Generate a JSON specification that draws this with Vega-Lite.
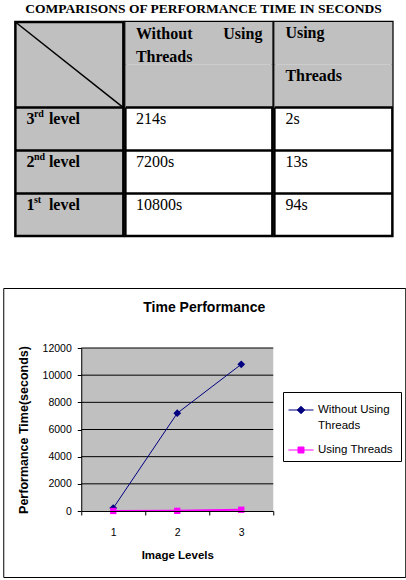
{
  "$schema": "https://vega.github.io/schema/vega-lite/v6.json",
  "background": "white",
  "padding": {"left": 2, "right": 0, "top": 1, "bottom": 0},
  "config": {
    "view": {"stroke": null},
    "font": "Liberation Sans",
    "axis": {"grid": false, "labelFont": "Liberation Sans", "labelFontSize": 10.5, "labelColor": "black", "titleFont": "Liberation Sans", "titleColor": "black", "titleFontWeight": "bold", "domainColor": "black", "tickColor": "black", "tickSize": 4},
    "axisX": {"labelPadding": 12, "titleFontSize": 11.5, "titlePadding": 12, "labelAngle": 0},
    "axisY": {"labelPadding": 6, "titleFontSize": 12.5, "titlePadding": 12}
  },
  "datasets": {
    "series": [
      {"level": 1, "series": "Without Using Threads", "time": 214},
      {"level": 2, "series": "Without Using Threads", "time": 7200},
      {"level": 3, "series": "Without Using Threads", "time": 10800},
      {"level": 1, "series": "Using  Threads", "time": 2},
      {"level": 2, "series": "Using  Threads", "time": 13},
      {"level": 3, "series": "Using  Threads", "time": 94}
    ],
    "gridlines": [{"value": 2000}, {"value": 4000}, {"value": 6000}, {"value": 8000}, {"value": 10000}, {"value": 12000}],
    "labels": [
      {"row": "r3", "num": "3", "sup": "rd", "rest": "level"},
      {"row": "r2", "num": "2", "sup": "nd", "rest": "level"},
      {"row": "r1", "num": "1", "sup": "st", "rest": "level"}
    ],
    "without": [
      {"row": "r3", "text": "214s"},
      {"row": "r2", "text": "7200s"},
      {"row": "r1", "text": "10800s"}
    ],
    "using": [
      {"row": "r3", "text": "2s"},
      {"row": "r2", "text": "13s"},
      {"row": "r1", "text": "94s"}
    ],
    "header": [{"row": "h1"}, {"row": "h2"}]
  },
  "spacing": 49,
  "center": true,
  "vconcat": [
    {
      "title": {"text": "COMPARISONS OF PERFORMANCE TIME IN SECONDS", "font": "Liberation Serif", "fontSize": 13.5, "fontWeight": "bold", "color": "black", "anchor": "middle", "offset": 5},
      "spacing": -2.5,
      "hconcat": [
        {
          "width": 108, "height": 214,
          "view": {"stroke": "black", "strokeWidth": 2.5, "fill": "#c0c0c0"},
          "layer": [
            {
              "data": {"values": [{"a": "h1", "b": "h2"}]},
              "mark": {"type": "rule", "color": "black", "strokeWidth": 1.5},
              "encoding": {
                "x": {"datum": 0, "type": "quantitative", "scale": {"domain": [0, 1], "nice": false, "zero": false}, "axis": null},
                "x2": {"datum": 1},
                "y": {"field": "a", "type": "nominal", "bandPosition": 0,
                  "scale": {"type": "band", "domain": ["h1", "h2", "r3", "r2", "r1"], "paddingInner": 0, "paddingOuter": 0},
                  "axis": {"grid": true, "gridColor": "black", "gridWidth": 2.5, "gridOpacity": 1, "values": ["r3", "r2", "r1"], "bandPosition": 0, "domain": false, "ticks": false, "labels": false, "title": null, "minExtent": 0, "maxExtent": 0}},
                "y2": {"field": "b", "bandPosition": 1}
              }
            },
            {
              "data": {"name": "labels"},
              "mark": {"type": "text", "font": "Liberation Serif", "fontSize": 16, "fontWeight": "bold", "align": "left", "baseline": "alphabetic", "dx": 11, "dy": 16.5, "color": "black"},
              "encoding": {
                "x": {"datum": 0, "type": "quantitative"},
                "y": {"field": "row", "type": "nominal", "bandPosition": 0},
                "text": {"field": "num", "type": "nominal"}
              }
            },
            {
              "data": {"name": "labels"},
              "mark": {"type": "text", "font": "Liberation Serif", "fontSize": 10, "fontWeight": "bold", "align": "left", "baseline": "alphabetic", "dx": 18.5, "dy": 9.5, "color": "black"},
              "encoding": {
                "x": {"datum": 0, "type": "quantitative"},
                "y": {"field": "row", "type": "nominal", "bandPosition": 0},
                "text": {"field": "sup", "type": "nominal"}
              }
            },
            {
              "data": {"name": "labels"},
              "mark": {"type": "text", "font": "Liberation Serif", "fontSize": 16, "fontWeight": "bold", "align": "left", "baseline": "alphabetic", "dx": 33.5, "dy": 16.5, "color": "black"},
              "encoding": {
                "x": {"datum": 0, "type": "quantitative"},
                "y": {"field": "row", "type": "nominal", "bandPosition": 0},
                "text": {"field": "rest", "type": "nominal"}
              }
            }
          ]
        },
        {
          "width": 147, "height": 214,
          "view": {"stroke": "black", "strokeWidth": 2.5, "fill": "white"},
          "layer": [
            {
              "data": {"name": "header"},
              "mark": {"type": "rect", "color": "#c0c0c0"},
              "encoding": {
                "x": {"datum": 0, "type": "quantitative", "scale": {"domain": [0, 1], "nice": false, "zero": false}, "axis": null},
                "x2": {"datum": 1},
                "y": {"field": "row", "type": "nominal",
                  "scale": {"type": "band", "domain": ["h1", "h2", "r3", "r2", "r1"], "paddingInner": 0, "paddingOuter": 0},
                  "axis": {"grid": true, "gridColor": "black", "gridWidth": 2.5, "gridOpacity": 1, "values": ["r3", "r2", "r1"], "bandPosition": 0, "domain": false, "ticks": false, "labels": false, "title": null, "minExtent": 0, "maxExtent": 0, "zindex": 1}}
              }
            },
            {
              "data": {"values": [{"row": "h1", "text": "Without\nThreads"}]},
              "mark": {"type": "text", "font": "Liberation Serif", "fontSize": 16, "fontWeight": "bold", "align": "left", "baseline": "alphabetic", "dx": 10.5, "dy": 17, "lineBreak": "\n", "lineHeight": 23, "color": "black"},
              "encoding": {
                "x": {"datum": 0, "type": "quantitative"},
                "y": {"field": "row", "type": "nominal", "bandPosition": 0},
                "text": {"field": "text", "type": "nominal"}
              }
            },
            {
              "data": {"values": [{"row": "h1", "text": "Using"}]},
              "mark": {"type": "text", "font": "Liberation Serif", "fontSize": 16, "fontWeight": "bold", "align": "right", "baseline": "alphabetic", "dx": -10, "dy": 17, "color": "black"},
              "encoding": {
                "x": {"datum": 1, "type": "quantitative"},
                "y": {"field": "row", "type": "nominal", "bandPosition": 0},
                "text": {"field": "text", "type": "nominal"}
              }
            },
            {
              "data": {"name": "without"},
              "mark": {"type": "text", "font": "Liberation Serif", "fontSize": 16, "align": "left", "baseline": "alphabetic", "dx": 10.5, "dy": 16.5, "color": "black"},
              "encoding": {
                "x": {"datum": 0, "type": "quantitative"},
                "y": {"field": "row", "type": "nominal", "bandPosition": 0},
                "text": {"field": "text", "type": "nominal"}
              }
            }
          ]
        },
        {
          "width": 118, "height": 214,
          "view": {"stroke": "black", "strokeWidth": 2.5, "fill": "white"},
          "layer": [
            {
              "data": {"name": "header"},
              "mark": {"type": "rect", "color": "#c0c0c0"},
              "encoding": {
                "x": {"datum": 0, "type": "quantitative", "scale": {"domain": [0, 1], "nice": false, "zero": false}, "axis": null},
                "x2": {"datum": 1},
                "y": {"field": "row", "type": "nominal",
                  "scale": {"type": "band", "domain": ["h1", "h2", "r3", "r2", "r1"], "paddingInner": 0, "paddingOuter": 0},
                  "axis": {"grid": true, "gridColor": "black", "gridWidth": 2.5, "gridOpacity": 1, "values": ["r3", "r2", "r1"], "bandPosition": 0, "domain": false, "ticks": false, "labels": false, "title": null, "minExtent": 0, "maxExtent": 0, "zindex": 1}}
              }
            },
            {
              "data": {"values": [{"row": "h1", "text": "Using"}, {"row": "h2", "text": "Threads"}]},
              "mark": {"type": "text", "font": "Liberation Serif", "fontSize": 16, "fontWeight": "bold", "align": "left", "baseline": "alphabetic", "dx": 11, "dy": 16, "color": "black"},
              "encoding": {
                "x": {"datum": 0, "type": "quantitative"},
                "y": {"field": "row", "type": "nominal", "bandPosition": 0},
                "text": {"field": "text", "type": "nominal"}
              }
            },
            {
              "data": {"name": "using"},
              "mark": {"type": "text", "font": "Liberation Serif", "fontSize": 16, "align": "left", "baseline": "alphabetic", "dx": 11, "dy": 16.5, "color": "black"},
              "encoding": {
                "x": {"datum": 0, "type": "quantitative"},
                "y": {"field": "row", "type": "nominal", "bandPosition": 0},
                "text": {"field": "text", "type": "nominal"}
              }
            }
          ]
        }
      ]
    },
    {
      "width": 402, "height": 289,
      "view": {"stroke": "black", "strokeWidth": 1, "fill": "white"},
      "title": {"text": "Time Performance", "font": "Liberation Sans", "fontSize": 14, "fontWeight": "bold", "color": "black", "anchor": "middle", "offset": -27},
      "layer": [
        {
          "data": {"values": [{}]},
          "mark": {"type": "rect", "color": "#c0c0c0"},
          "encoding": {
            "x": {"datum": 1, "type": "ordinal", "bandPosition": 0, "title": "Image Levels",
              "scale": {"type": "band", "range": [78, 270], "paddingInner": 0, "paddingOuter": 0},
              "axis": {"orient": "bottom", "offset": -66, "zindex": 1, "tickBand": "extent",
                "encode": {"labels": {"update": {"fontSize": {"value": 10.5}, "font": {"value": "Liberation Sans"}}}}}},
            "x2": {"datum": 3, "bandPosition": 1},
            "y": {"datum": 0, "type": "quantitative", "title": "Performance Time(seconds)",
              "scale": {"domain": [0, 12000], "range": [223, 60], "nice": false},
              "axis": {"orient": "left", "offset": -78, "zindex": 1, "values": [0, 2000, 4000, 6000, 8000, 10000, 12000], "format": "d",
                "encode": {"labels": {"update": {"fontSize": {"value": 10.5}, "font": {"value": "Liberation Sans"}}}}}},
            "y2": {"datum": 12000}
          }
        },
        {
          "data": {"name": "gridlines"},
          "mark": {"type": "rule", "color": "black", "strokeWidth": 1},
          "encoding": {
            "x": {"datum": 1, "type": "ordinal", "bandPosition": 0, "title": "Image Levels"},
            "x2": {"datum": 3, "bandPosition": 1},
            "y": {"field": "value", "type": "quantitative", "title": "Performance Time(seconds)"}
          }
        },
        {
          "data": {"name": "series"},
          "encoding": {
            "x": {"field": "level", "type": "ordinal", "title": "Image Levels"},
            "y": {"field": "time", "type": "quantitative", "title": "Performance Time(seconds)"},
            "color": {"field": "series", "type": "nominal",
              "scale": {"domain": ["Without Using Threads", "Using  Threads"], "range": ["#000080", "#ff00ff"]},
              "legend": {"title": null, "orient": "none", "legendX": 280, "legendY": 370, "strokeColor": "black", "fillColor": "white", "padding": 5,
                "symbolSize": 625, "symbolStrokeWidth": 1, "labelFont": "Liberation Sans", "labelFontSize": 11.5, "labelColor": "black", "labelOffset": 4, "labelLimit": 200, "rowPadding": 5,
                "labelExpr": "datum.label == 'Without Using Threads' ? ['Without Using', 'Threads'] : datum.label",
                "encode": {
                  "symbols": {"update": {
                    "shape": [{"test": "datum.value == 'Using  Threads'", "value": "M-1,0H1M-0.24,-0.24H0.24V0.24H-0.24Z"}, {"value": "M-1,0H1M0,-0.3L0.3,0L0,0.3L-0.3,0Z"}],
                    "fill": {"scale": "color", "field": "value"},
                    "stroke": {"scale": "color", "field": "value"},
                    "strokeWidth": {"value": 1},
                    "opacity": {"value": 1}
                  }},
                  "labels": {"update": {"lineHeight": {"value": 16}}}
                }}
            }
          },
          "layer": [
            {
              "transform": [{"filter": "datum.series == 'Without Using Threads'"}],
              "mark": {"type": "line", "strokeWidth": 1}
            },
            {
              "transform": [{"filter": "datum.series == 'Using  Threads'"}],
              "mark": {"type": "line", "strokeWidth": 2}
            },
            {
              "transform": [{"filter": "datum.series == 'Without Using Threads'"}],
              "mark": {"type": "point", "shape": "diamond", "filled": true, "opacity": 1, "size": 60}
            },
            {
              "transform": [{"filter": "datum.series == 'Using  Threads'"}],
              "mark": {"type": "point", "shape": "square", "filled": true, "opacity": 1, "size": 40}
            }
          ]
        }
      ]
    }
  ]
}
